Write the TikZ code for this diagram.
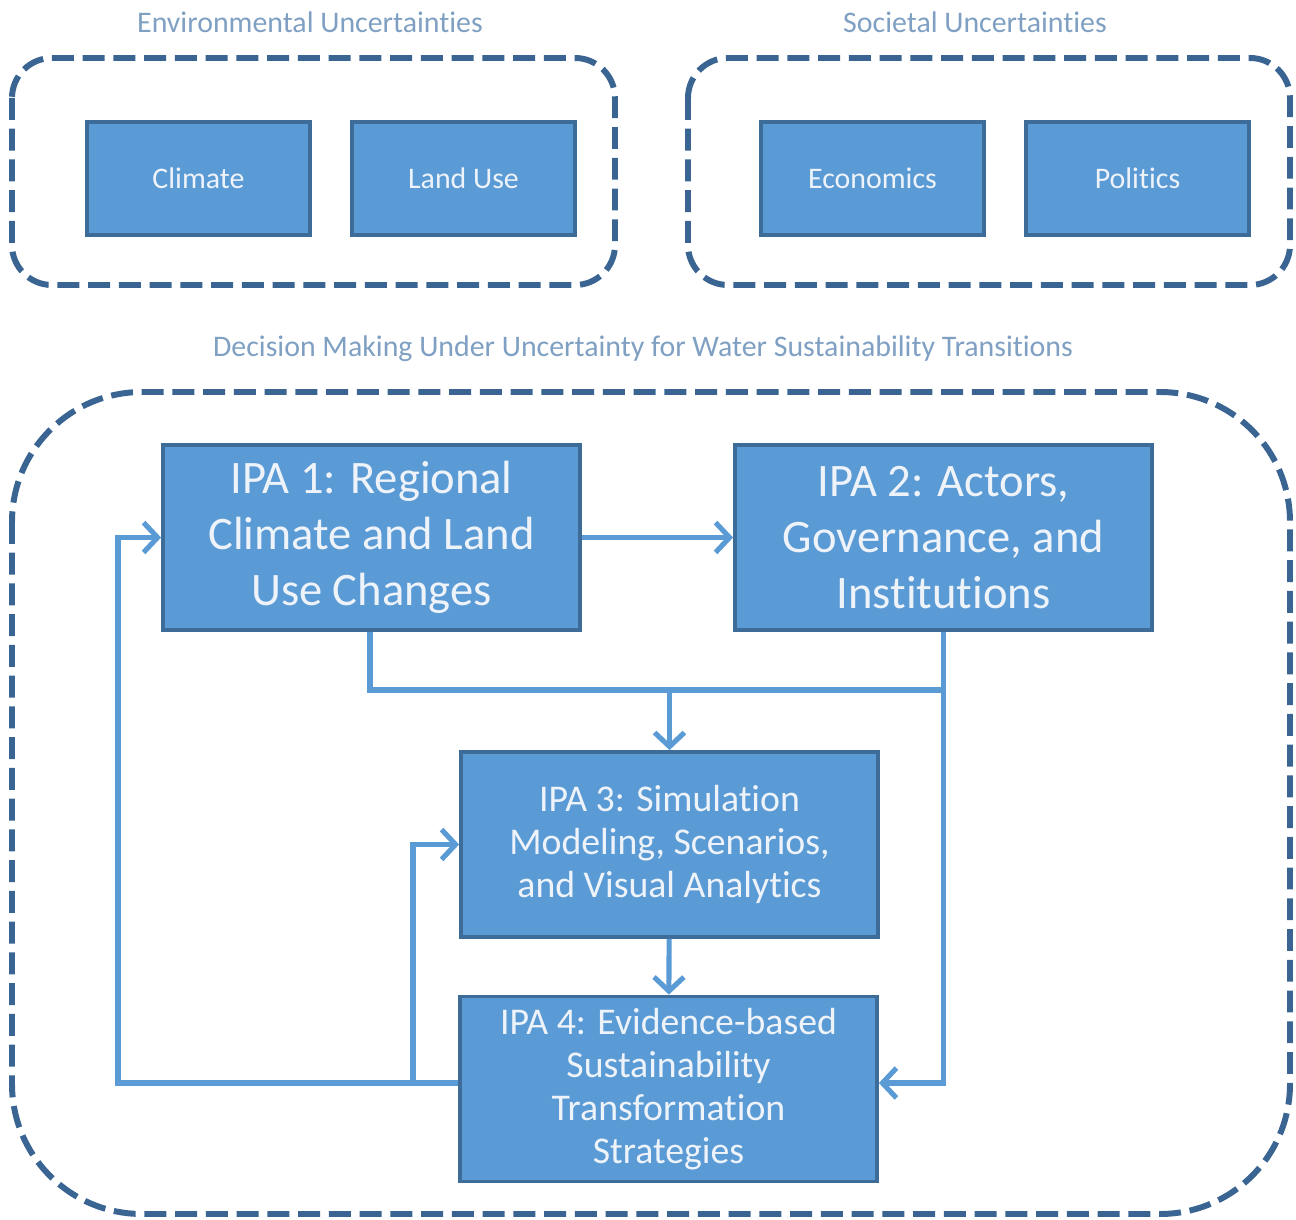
\documentclass[tikz,border=0pt]{standalone}
\usepackage{fontspec}
\setmainfont{Carlito}[Ligatures=NoCommon]
\usepackage{xcolor}
\usetikzlibrary{arrows.meta,positioning}

\definecolor{boxblue}{HTML}{5B9BD5}
\definecolor{boxedge}{HTML}{3E6C98}
\definecolor{linkblue}{HTML}{5B9BD5}
\definecolor{groupedge}{HTML}{3A6592}
\definecolor{titlegrey}{HTML}{7FA0C3}
\definecolor{boxtext}{HTML}{EEF3FA}

\begin{document}
\begin{tikzpicture}[x=0.02cm, y=-0.02cm,
    factor/.style={rectangle, draw=boxedge, fill=boxblue, line width=2.2pt, text=boxtext, minimum width=4.46cm, minimum height=2.26cm, font=\fontsize{17}{20}\selectfont},
    ipabig/.style={rectangle, draw=boxedge, fill=boxblue, line width=2.2pt, text=boxtext, align=center, minimum width=8.34cm, minimum height=3.7cm, font=\fontsize{26.5}{31.8}\selectfont},
    ipasmall/.style={ipabig, font=\fontsize{21.5}{24.6}\selectfont},
    grouptitle/.style={text=titlegrey, font=\fontsize{17}{20}\selectfont},
    groupbox/.style={draw=groupedge, line width=3.4pt, dash pattern=on 12.5pt off 5pt},
    link/.style={draw=linkblue, line width=2.9pt},
    arrow/.style={link, -{Straight Barb[length=8pt,width=17pt]}}
]
\useasboundingbox (0,0) rectangle (1296,1220);

% Uncertainty groups
\node[grouptitle] (envtitle) at (310,22) {Environmental Uncertainties};
\node[grouptitle] (soctitle) at (975,22) {Societal Uncertainties};
\node[grouptitle] (dmtitle) at (643,349) {Decision Making Under Uncertainty for Water Sustainability Transitions};
\draw[groupbox, rounded corners=0.8cm] (12,58) rectangle (615,285);
\draw[groupbox, rounded corners=0.8cm] (688,58) rectangle (1290,285);
\draw[groupbox, rounded corners=2.6cm] (12,392) rectangle (1290,1214);

% Drivers
\node[factor] (climate) at (198.5,178.5) {Climate};
\node[factor] (landuse) at (463.5,178.5) {Land Use};
\node[factor] (economics) at (872.5,178.5) {Economics};
\node[factor] (politics) at (1137.5,178.5) {Politics};

% IPAs
\node[ipabig] (ipa1) at (371.5,537.5) {IPA 1: Regional\\Climate and Land\\Use Changes};
\node[ipabig] (ipa2) at (943.5,537.5) {IPA 2: Actors,\\Governance, and\\Institutions};
\node[ipasmall] (ipa3) at (669.5,844.5) {IPA 3: Simulation\\Modeling, Scenarios,\\and Visual Analytics};
\node[ipasmall] (ipa4) at (668.5,1089) {IPA 4: Evidence-based\\Sustainability\\Transformation\\Strategies};

% Junctions
\coordinate (join) at (ipa3.north |- 0,690);
\coordinate (back) at (118,0);
\coordinate (split) at (413,0);

% Connections
\draw[arrow] (ipa1) -- (ipa2);
\draw[link] (ipa1.south -| 370,0) |- (join);
\draw[link] (ipa2.south) |- (join);
\draw[arrow] (join) -- (ipa3);
\draw[arrow] (ipa3) -- (ipa4);
\draw[arrow] (ipa2.south) |- (ipa4.east |- 0,1083);

% Feedback loops
\draw[arrow] (ipa4.west |- 0,1083) -| (back |- ipa1.west) -- (ipa1.west);
\draw[arrow] (split |- 0,1083) |- (ipa3.west);

\end{tikzpicture}
\end{document}
